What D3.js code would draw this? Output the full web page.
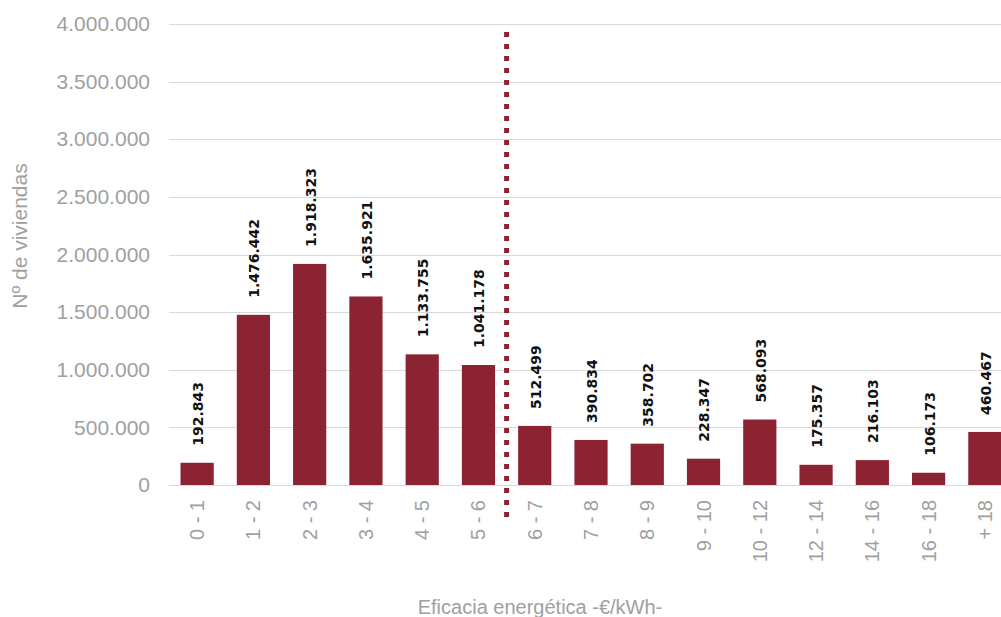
<!DOCTYPE html>
<html><head><meta charset="utf-8">
<script src="https://cdn.jsdelivr.net/npm/d3@7"></script>
<style>body{margin:0;background:#fff}svg{display:block}</style>
</head><body>
<svg id="c" width="1001" height="617"></svg>
<script>
const categories = ["0 - 1","1 - 2","2 - 3","3 - 4","4 - 5","5 - 6","6 - 7","7 - 8","8 - 9","9 - 10","10 - 12","12 - 14","14 - 16","16 - 18","+ 18"];
const values = [192843,1476442,1918323,1635921,1133755,1041178,512499,390834,358702,228347,568093,175357,216103,106173,460467];
const yTicks = [0,500000,1000000,1500000,2000000,2500000,3000000,3500000,4000000];
const yTitle = "Nº de viviendas";
const xTitle = "Eficacia energética -€/kWh-";
const refAfter = "5 - 6";       // dotted separator after this category
const refRange = [-280000, 3930000];

const fmt = v => d3.format(",")(v).replace(/,/g, ".");
const svg = d3.select("#c");
const barColor = "#8B2332";
const grey = "#a0a0a0";

const x = d3.scaleBand().domain(categories).range([169, 1013]).paddingInner(0.41).paddingOuter(0.205);
const y = d3.scaleLinear().domain([0, 4000000]).range([485, 24]);

// gridlines
svg.append("g").selectAll("line").data(yTicks).join("line")
  .attr("x1", 169).attr("x2", 1013)
  .attr("y1", d => Math.round(y(d)) + 0.5).attr("y2", d => Math.round(y(d)) + 0.5)
  .attr("stroke", "#d9d9d9").attr("stroke-width", 1);

// y axis labels
const yAxis = svg.append("g").attr("transform", "translate(150,0)")
  .call(d3.axisLeft(y).tickValues(yTicks).tickFormat(fmt).tickSize(0).tickPadding(0));
yAxis.select(".domain").remove();
yAxis.selectAll("text").attr("fill", grey).style("font-family", "Liberation Sans, Arial, sans-serif").style("font-size", "21px");

// bars
svg.append("g").selectAll("rect").data(values).join("rect")
  .attr("x", (d, i) => x(categories[i]))
  .attr("width", x.bandwidth())
  .attr("y", d => y(d))
  .attr("height", d => y(0) - y(d))
  .attr("fill", barColor);

// value labels
svg.append("g").selectAll("text").data(values).join("text")
  .attr("transform", (d, i) => `translate(${x(categories[i]) + x.bandwidth() / 2 + 1},${y(d) - 17}) rotate(-90)`)
  .attr("dy", "0.35em")
  .attr("text-anchor", "start")
  .attr("fill", "#111")
  .style("font-family", "DejaVu Sans, sans-serif")
  .style("font-weight", "bold")
  .style("font-size", "14px")
  .text(d => fmt(d));

// x axis labels
const xAxis = svg.append("g").attr("transform", "translate(0,500)")
  .call(d3.axisBottom(x).tickSize(0).tickPadding(0));
xAxis.select(".domain").remove();
xAxis.selectAll("text")
  .attr("transform", "rotate(-90)")
  .attr("text-anchor", "end")
  .attr("x", 0).attr("y", 0).attr("dy", "0.35em")
  .attr("fill", grey)
  .style("font-family", "Liberation Sans, Arial, sans-serif")
  .style("font-size", "20px");

// dotted separator
const idx = categories.indexOf(refAfter);
const sepX = x(categories[idx + 1]) - x.step() * x.paddingInner() / 2;
svg.append("line")
  .attr("x1", sepX).attr("x2", sepX)
  .attr("y1", y(refRange[1])).attr("y2", y(refRange[0]))
  .attr("stroke", barColor).attr("stroke-width", 5)
  .attr("stroke-dasharray", "5,7");

// titles
svg.append("text")
  .attr("transform", `translate(20,236) rotate(-90)`)
  .attr("text-anchor", "middle").attr("dy", "0.35em")
  .attr("fill", grey)
  .style("font-family", "Liberation Sans, Arial, sans-serif").style("font-size", "21px")
  .text(yTitle);
svg.append("text")
  .attr("x", 540).attr("y", 614)
  .attr("text-anchor", "middle")
  .attr("fill", grey)
  .style("font-family", "Liberation Sans, Arial, sans-serif").style("font-size", "20px")
  .text(xTitle);
</script>
</body></html>
